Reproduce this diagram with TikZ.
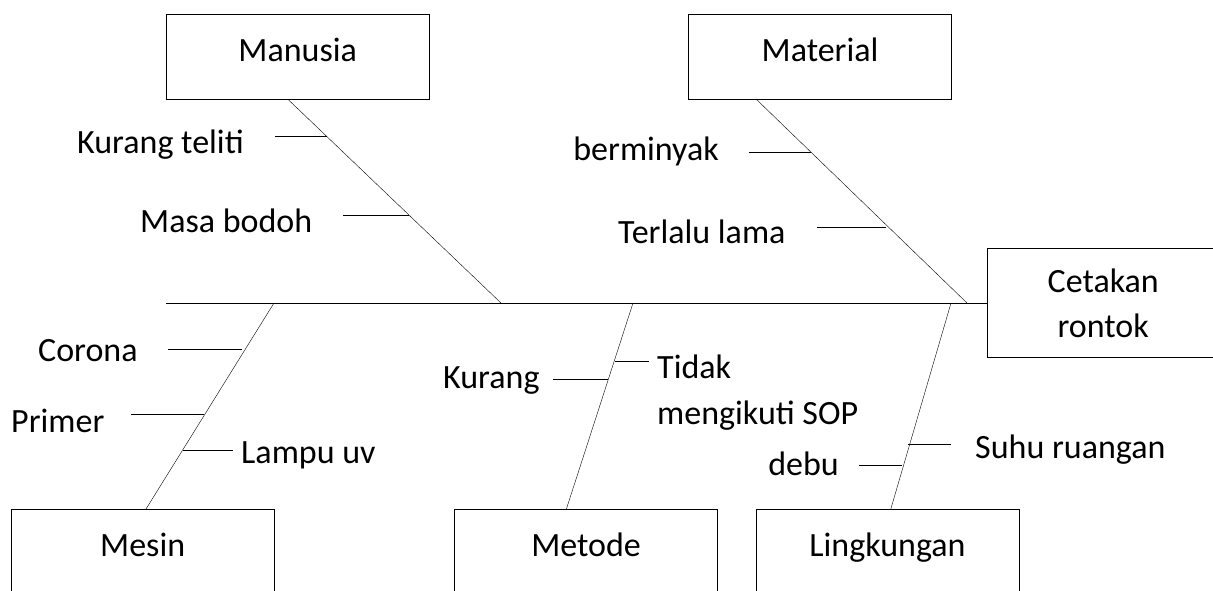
\documentclass[tikz,border=0pt]{standalone}
\usepackage{fontspec}
\setmainfont{Carlito}
\usetikzlibrary{positioning}
\tikzset{
    line width=1.5pt, node distance=1cm and 1cm,
    cause/.style ={rectangle, draw, minimum width=263pt, minimum height=85pt, inner sep=0pt, text height=24pt, text depth=15pt, font=\fontsize{34}{45}\selectfont},
    effect/.style ={rectangle, draw, minimum width=232pt, minimum height=109pt, inner sep=0pt, align=center, font=\fontsize{34}{45}\selectfont},
    sub/.style = {inner sep=0pt, font=\fontsize{34}{46}\selectfont}
}
\begin{document}
\begin{tikzpicture}[x=1pt, y=-1pt]
    \useasboundingbox (0,0) rectangle (1213,590);
    % main boxes
    \node (manusia) [cause, anchor=north west] at (166,14) {Manusia};
    \node (material) [cause, right=259pt of manusia] {Material};
    \node (mesin) [cause, anchor=north west] at (11,509) {Mesin};
    \node (metode) [cause, right=180pt of mesin] {Metode};
    \node (lingkungan) [cause, right=38pt of metode] {Lingkungan};
    \node (cetakan) [effect, anchor=west] at (987,303) {Cetakan\\rontok};

    % spine and bones
    \coordinate (tail) at (166,303);
    \coordinate (b1) at (501,303);
    \coordinate (b2) at (967,303);
    \coordinate (b3) at (274,303);
    \coordinate (b4) at (633,303);
    \coordinate (b5) at (951,303);
    \path (tail) edge (cetakan);
    \path ([xshift=122pt]manusia.south west) edge (b1);
    \path ([xshift=68pt]material.south west) edge (b2);
    \path ([xshift=135pt]mesin.north west) edge (b3);
    \path ([xshift=112pt]metode.north west) edge (b4);
    \path ([xshift=135pt]lingkungan.north west) edge (b5);

    % sub causes
    \node (kurangteliti) [sub, anchor=mid west] at (77,151) {Kurang teliti};
    \node (masabodoh) [sub, anchor=mid west] at (140,230) {Masa bodoh};
    \node (berminyak) [sub, anchor=mid east] at (719,158) {berminyak};
    \node (terlalulama) [sub, anchor=mid west] at (618,241) {Terlalu lama};
    \node (corona) [sub, anchor=mid west] at (38,359) {Corona};
    \node (primer) [sub, anchor=mid west] at (11,430) {Primer};
    \node (lampuuv) [sub, anchor=mid west] at (241,461) {Lampu uv};
    \node (kurang) [sub, anchor=mid west] at (443,386) {Kurang};
    \node (tidaksop) [sub, align=left, anchor=north west] at (657,355) {Tidak\\mengikuti SOP};
    \node (debu) [sub, anchor=mid east] at (839,473) {debu};
    \node (suhu) [sub, anchor=mid west] at (975,456) {Suhu ruangan};

    % ticks
    \coordinate (t1a) at (275,136);  \coordinate (t1b) at (327,136);
    \coordinate (t2a) at (343,215);  \coordinate (t2b) at (409,215);
    \coordinate (t3a) at (749,152);  \coordinate (t3b) at (811,152);
    \coordinate (t4a) at (817,227);  \coordinate (t4b) at (886,227);
    \coordinate (t5a) at (168,349);  \coordinate (t5b) at (242,349);
    \coordinate (t6a) at (131,414);  \coordinate (t6b) at (204,414);
    \coordinate (t7a) at (183,450);  \coordinate (t7b) at (233,450);
    \coordinate (t8a) at (553,379);  \coordinate (t8b) at (608,379);
    \coordinate (t9a) at (615,361);  \coordinate (t9b) at (649,361);
    \coordinate (t10a) at (859,465); \coordinate (t10b) at (902,465);
    \coordinate (t11a) at (908,444); \coordinate (t11b) at (951,444);
    \path (t1a) edge (t1b);
    \path (t2a) edge (t2b);
    \path (t3a) edge (t3b);
    \path (t4a) edge (t4b);
    \path (t5a) edge (t5b);
    \path (t6a) edge (t6b);
    \path (t7a) edge (t7b);
    \path (t8a) edge (t8b);
    \path (t9a) edge (t9b);
    \path (t10a) edge (t10b);
    \path (t11a) edge (t11b);
\end{tikzpicture}
\end{document}
